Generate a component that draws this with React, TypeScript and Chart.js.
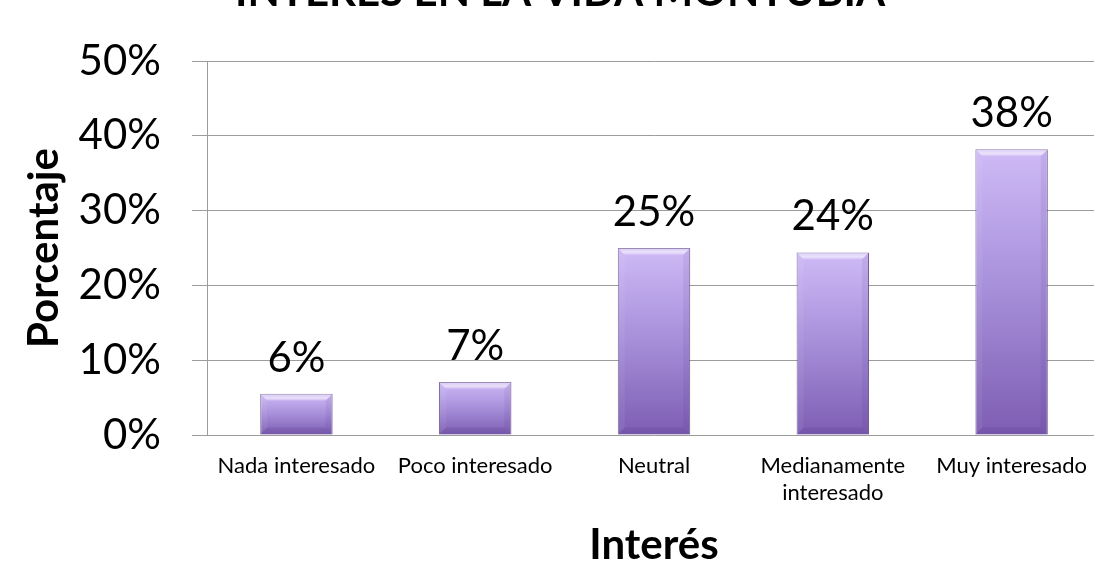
import React, { useEffect, useRef } from 'react';
import { Chart, registerables } from 'chart.js';

Chart.register(...registerables);

const chartTitle = 'INTERÉS EN LA VIDA MONTUBIA';
const categories: (string | string[])[] = [
  'Nada interesado',
  'Poco interesado',
  'Neutral',
  ['Medianamente', 'interesado'],
  'Muy interesado',
];
const values = [5.5, 7.1, 25.0, 24.4, 38.2];
const valueLabels = ['6%', '7%', '25%', '24%', '38%'];
const yMin = 0;
const yMax = 50;
const yStep = 10;
const yTitle = 'Porcentaje';
const xTitle = 'Interés';

const FONT = 'Lato';

const overlayPlugin = {
  id: 'overlay',
  afterDatasetsDraw(chart: any) {
    const ctx = chart.ctx as CanvasRenderingContext2D;
    const meta = chart.getDatasetMeta(0);
    ctx.save();
    meta.data.forEach((bar: any, i: number) => {
      const { x, y, width, base } = bar.getProps(['x', 'y', 'width', 'base'], true);
      const l = x - width / 2;
      const r = x + width / 2;
      const b = Math.min(7, (base - y) / 3);
      // top bevel highlight
      const tg = ctx.createLinearGradient(0, y, 0, y + b);
      tg.addColorStop(0, 'rgba(255,255,255,0.2)');
      tg.addColorStop(0.6, 'rgba(255,255,255,0.6)');
      tg.addColorStop(1, 'rgba(255,255,255,0.1)');
      ctx.fillStyle = tg;
      ctx.beginPath();
      ctx.moveTo(l, y);
      ctx.lineTo(r, y);
      ctx.lineTo(r - b, y + b);
      ctx.lineTo(l + b, y + b);
      ctx.closePath();
      ctx.fill();
      // left side light
      ctx.fillStyle = 'rgba(255,255,255,0.06)';
      ctx.beginPath();
      ctx.moveTo(l, y);
      ctx.lineTo(l + b, y + b);
      ctx.lineTo(l + b, base - b);
      ctx.lineTo(l, base);
      ctx.closePath();
      ctx.fill();
      // right side dark
      ctx.fillStyle = 'rgba(60,30,110,0.08)';
      ctx.beginPath();
      ctx.moveTo(r, y);
      ctx.lineTo(r - b, y + b);
      ctx.lineTo(r - b, base - b);
      ctx.lineTo(r, base);
      ctx.closePath();
      ctx.fill();
      // bottom dark
      ctx.fillStyle = 'rgba(60,30,110,0.12)';
      ctx.beginPath();
      ctx.moveTo(l, base);
      ctx.lineTo(r, base);
      ctx.lineTo(r - b, base - b);
      ctx.lineTo(l + b, base - b);
      ctx.closePath();
      ctx.fill();
      // value label
      ctx.fillStyle = '#000';
      ctx.font = `42px ${FONT}`;
      ctx.textAlign = 'center';
      ctx.textBaseline = 'alphabetic';
      ctx.fillText(valueLabels[i], x, y - 22);
    });
    // chart title (cropped at the top like the reference)
    ctx.font = `bold 42px ${FONT}`;
    ctx.fillStyle = '#000';
    ctx.textAlign = 'center';
    ctx.textBaseline = 'alphabetic';
    ctx.fillText(chartTitle, 560, 6);
    ctx.restore();
  },
};

export default function App() {
  const ref = useRef<HTMLCanvasElement>(null);

  useEffect(() => {
    if (!ref.current) return;
    const chart = new Chart(ref.current, {
      type: 'bar',
      data: {
        labels: categories,
        datasets: [
          {
            data: values,
            backgroundColor: (c: any) => {
              const ch = c.chart;
              const { ctx, chartArea, scales } = ch;
              if (!chartArea || c.dataIndex == null || !scales.y) return '#a58ad8';
              const top = scales.y.getPixelForValue(values[c.dataIndex]);
              const base = scales.y.getPixelForValue(0);
              const g = ctx.createLinearGradient(0, top, 0, base);
              g.addColorStop(0, '#cfbaf6');
              g.addColorStop(0.5, '#a68ed9');
              g.addColorStop(1, '#7d5db2');
              return g;
            },
            borderColor: 'rgba(95,75,135,0.85)',
            borderWidth: 1,
            barPercentage: 0.405,
            categoryPercentage: 1,
          },
        ],
      },
      options: {
        responsive: false,
        animation: false,
        devicePixelRatio: 1,
        layout: { padding: { top: 61, left: 0, right: 0, bottom: 0 } },
        plugins: {
          legend: { display: false },
          tooltip: { enabled: false },
          title: { display: false },
        },
        scales: {
          x: {
            grid: { display: false, drawTicks: false },
            border: { display: false },
            ticks: {
              font: { family: FONT, size: 22, lineHeight: 1.2 },
              color: '#000',
              padding: 18,
              maxRotation: 0,
              autoSkip: false,
            },
            title: {
              display: true,
              text: xTitle,
              font: { family: FONT, size: 42, weight: 'bold', lineHeight: 1 },
              color: '#000',
              padding: { top: 0, bottom: -4 },
            },
            afterFit: (s: any) => {
              s.height = 127;
              s.paddingLeft = 0;
              s.paddingRight = 0;
            },
          },
          y: {
            min: yMin,
            max: yMax,
            ticks: {
              stepSize: yStep,
              font: { family: FONT, size: 42 },
              color: '#000',
              padding: 31,
              callback: (v: any) => `${v}%`,
            },
            grid: { color: '#9c9c9c', lineWidth: 1, tickLength: 15, drawTicks: true },
            border: { display: true, color: '#9c9c9c', width: 1 },
            title: {
              display: true,
              text: yTitle,
              font: { family: FONT, size: 42, weight: 'bold', lineHeight: 1.2 },
              color: '#000',
              padding: { top: 19, bottom: 0 },
            },
            afterFit: (s: any) => {
              s.width = 207;
            },
          },
        },
      },
      plugins: [overlayPlugin],
    } as any);
    return () => chart.destroy();
  }, []);

  return (
    <div style={{ position: 'fixed', left: 0, top: 0, width: 1094, height: 562, background: '#fff', overflow: 'hidden' }}>
      <canvas ref={ref} width={1101} height={562} style={{ display: 'block' }} />
    </div>
  );
}
